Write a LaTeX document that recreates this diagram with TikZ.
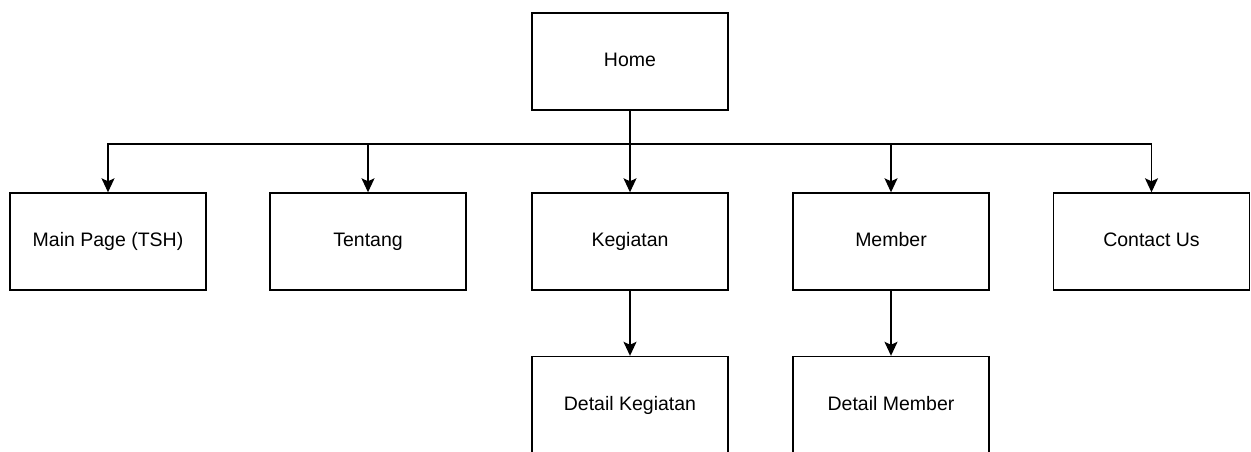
\documentclass[tikz,border=0pt]{standalone}
\usepackage{fontspec}
\setmainfont{Liberation Sans}
\usetikzlibrary{arrows.meta}

\begin{document}
\begin{tikzpicture}[>={Stealth[length=14pt,width=13pt,inset=3pt]}, x=1pt, y=-1pt,
    box/.style={draw, line width=1.4pt, minimum width=196pt, minimum height=97pt,
        font=\fontsize{19.5}{23}\selectfont, inner sep=0pt,
        text height=14pt, text depth=4pt},
    link/.style={->, line width=1.4pt}]

    % Frame of the page
    \useasboundingbox (0,0) rectangle (1251,452);
    \clip (0,0) rectangle (1251,452);

    % Top box
    \node[box] (home) at (630,61.5) {Home};

    % Second row
    \node[box] (mainpage) at (108,241.5) {Main Page (TSH)};
    \node[box] (tentang) at (368,241.5) {Tentang};
    \node[box] (kegiatan) at (630,241.5) {Kegiatan};
    \node[box] (member) at (891,241.5) {Member};
    \node[box] (contact) at (1151.5,241.5) {Contact Us};

    % Third row (cut off at the bottom)
    \node[box] (detailkeg) at (630,405) {Detail Kegiatan};
    \node[box] (detailmem) at (891,405) {Detail Member};

    % Bus line under Home
    \coordinate (bus) at (630,144);

    % Arrows from Home
    \draw[link] (home.south) -- (bus) -| (mainpage.north);
    \draw[link] (home.south) -- (bus) -| (tentang.north);
    \draw[link] (home.south) -- (kegiatan.north);
    \draw[link] (home.south) -- (bus) -| (member.north);
    \draw[link] (home.south) -- (bus) -| (contact.north);

    % Arrows to details
    \draw[link] (kegiatan.south) -- (detailkeg.north);
    \draw[link] (member.south) -- (detailmem.north);

\end{tikzpicture}
\end{document}
